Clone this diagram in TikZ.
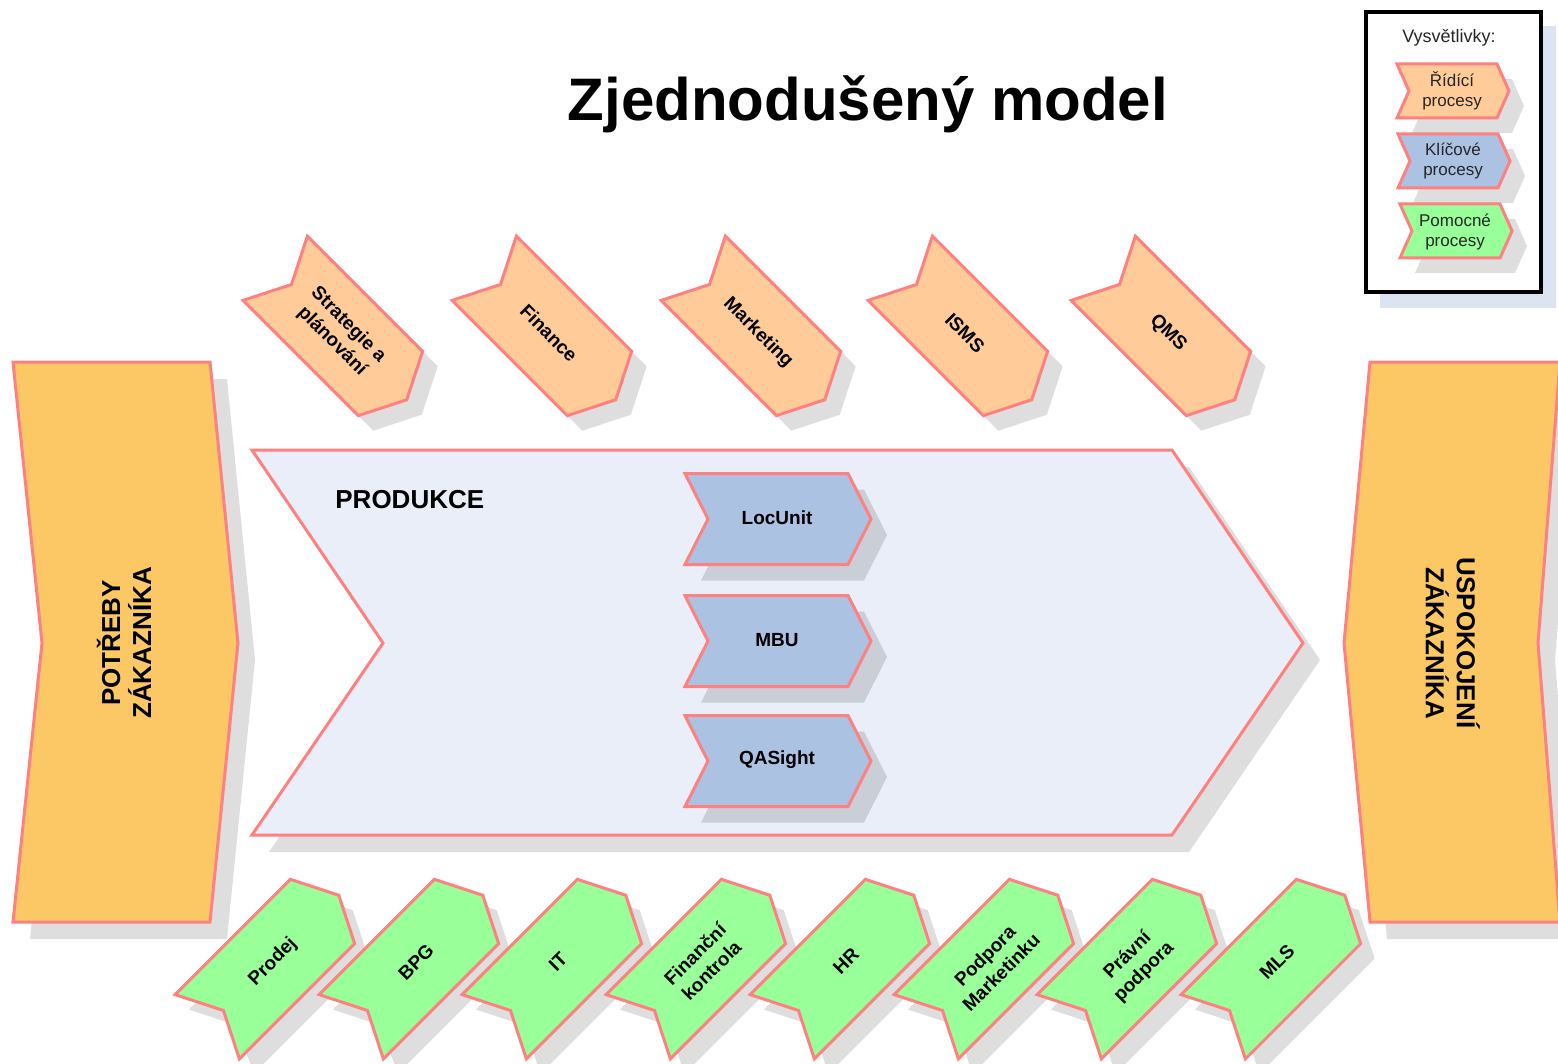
\documentclass[tikz,border=0pt]{standalone}
\usepackage{fontspec}
\setmainfont{Liberation Sans}
\definecolor{strokec}{HTML}{FF8080}
\definecolor{sidec}{HTML}{FCC866}
\definecolor{orangec}{HTML}{FFCC99}
\definecolor{greenc}{HTML}{99FF99}
\definecolor{bluec}{HTML}{ABC2E3}
\definecolor{prodc}{HTML}{E9EEF8}
\definecolor{legshadow}{HTML}{DCE3F1}
\tikzset{
  pics/chev/.style args={#1/#2/#3}{code={
    \path[pic actions] ({-(#1+#3)/2},{#2/2}) -- ({(#1-#3)/2},{#2/2}) -- ({(#1+#3)/2},0)
      -- ({(#1-#3)/2},{-#2/2}) -- ({-(#1+#3)/2},{-#2/2}) -- ({(#3-#1)/2},0) -- cycle;
  }},
  shadowc/.style={fill=black, fill opacity=0.13},
  shapec/.style={draw=strokec, line width=1.5pt, line join=miter},
  chevtext/.style={align=center, font=\fontsize{9.5}{11.5}\selectfont\bfseries, inner sep=0pt},
  legtext/.style={align=center, font=\fontsize{8.5}{10}\selectfont, text=black!85, inner sep=0pt},
  sidetext/.style={align=center, font=\fontsize{13}{15.5}\selectfont\bfseries, inner sep=0pt},
}
\begin{document}
\begin{tikzpicture}[x=0.5pt, y=-0.5pt]
\useasboundingbox[fill=white] (0,0) rectangle (1558,1064);

% ---------- legend ----------
\fill[legshadow] (1380,26) rectangle (1556,308);
\draw[fill=white, line width=1.8pt] (1366,12) rectangle (1541,292);
\node[legtext, font=\fontsize{9}{10}\selectfont] (legtitle) at (1449,38) {Vysvětlivky:};
\pic[shadowc] at (1468,106) {chev=100/54/12};
\pic[shadowc] at (1469,176) {chev=100/54/12};
\pic[shadowc] at (1471,246) {chev=100/54/12};
\pic[shapec, fill=orangec] at (1453,91) {chev=100/54/12};
\node[legtext] (legA) at (1452,91) {Řídící\\procesy};
\pic[shapec, fill=bluec] at (1454,161) {chev=100/54/12};
\node[legtext] (legB) at (1453,161) {Klíčové\\procesy};
\pic[shapec, fill=greenc] at (1456,231) {chev=100/54/12};
\node[legtext] (legC) at (1455,232) {Pomocné\\procesy};

% ---------- title ----------
\node[anchor=base, font=\fontsize{30}{36}\selectfont\bfseries, inner sep=0pt] (title) at (868,121) {Zjednodušený model};

% ---------- side shapes ----------
\fill[shadowc] (30,379) -- (227,379) -- (255,660) -- (227,939) -- (30,939) -- (59,660) -- cycle;
\fill[shadowc] (1387,379) -- (1577,379) -- (1555,660) -- (1577,939) -- (1387,939) -- (1361,660) -- cycle;
\draw[shapec, fill=sidec] (13,362) -- (210,362) -- (238,643) -- (210,922) -- (13,922) -- (42,643) -- cycle;
\draw[shapec, fill=sidec] (1370,362) -- (1560,362) -- (1538,643) -- (1560,922) -- (1370,922) -- (1344,643) -- cycle;
\node[sidetext, rotate=90] (left) at (124,643) {POTŘEBY\\ZÁKAZNÍKA};
\node[sidetext, rotate=-90] (right) at (1453,643) {USPOKOJENÍ\\ZÁKAZNÍKA};

% ---------- production ----------
\fill[shadowc] (269,467) -- (1189,467) -- (1320,660) -- (1189,852) -- (269,852) -- (400,660) -- cycle;
\draw[shapec, fill=prodc] (252,450) -- (1172,450) -- (1303,643) -- (1172,835) -- (252,835) -- (383,643) -- cycle;
\node[anchor=base west, font=\fontsize{13}{15}\selectfont\bfseries, inner sep=0pt] (prod) at (335,508) {PRODUKCE};

\foreach \y in {519,641,761} {\pic[shadowc] at (794,\y+16) {chev=163/91/23};}
\pic[shapec, fill=bluec] at (778,519) {chev=163/91/23};
\pic[shapec, fill=bluec] at (778,641) {chev=163/91/23};
\pic[shapec, fill=bluec] at (778,761) {chev=163/91/23};
\node[chevtext] (loc) at (777,518) {LocUnit};
\node[chevtext] (mbu) at (777,640) {MBU};
\node[chevtext] (qas) at (777,760) {QASight};

% ---------- top (orange) ----------
\foreach \x in {341,550,759,966,1169} {\pic[shadowc, rotate=-45] at (\x+15,349) {chev=163/91/23};}
\foreach \x in {341,550,759,966,1169} {\pic[shapec, fill=orangec, rotate=-45] at (\x,334) {chev=163/91/23};}
\node[chevtext, rotate=-45] (o1) at (340,333) {Strategie a\\plánování};
\node[chevtext, rotate=-45] (o2) at (549,333) {Finance};
\node[chevtext, rotate=-45] (o3) at (758,333) {Marketing};
\node[chevtext, rotate=-45] (o4) at (965,333) {ISMS};
\node[chevtext, rotate=-45] (o5) at (1168,333) {QMS};

% ---------- bottom (green) ----------
\foreach \x in {273,417,560,704,848,992,1135,1279} {\pic[shadowc, rotate=45] at (\x+14,976) {chev=163/91/23};}
\foreach \x in {273,417,560,704,848,992,1135,1279} {\pic[shapec, fill=greenc, rotate=45] at (\x,961) {chev=163/91/23};}
\node[chevtext, rotate=45] (g1) at (273,962) {Prodej};
\node[chevtext, rotate=45] (g2) at (416,962) {BPG};
\node[chevtext, rotate=45] (g3) at (558,962) {IT};
\node[chevtext, rotate=45] (g4) at (703,962) {Finanční\\kontrola};
\node[chevtext, rotate=45] (g5) at (846,961) {HR};
\node[chevtext, rotate=45] (g6) at (993,964) {Podpora\\Marketinku};
\node[chevtext, rotate=45] (g7) at (1136,964) {Právní\\podpora};
\node[chevtext, rotate=45] (g8) at (1277,962) {MLS};
\end{tikzpicture}
\end{document}
